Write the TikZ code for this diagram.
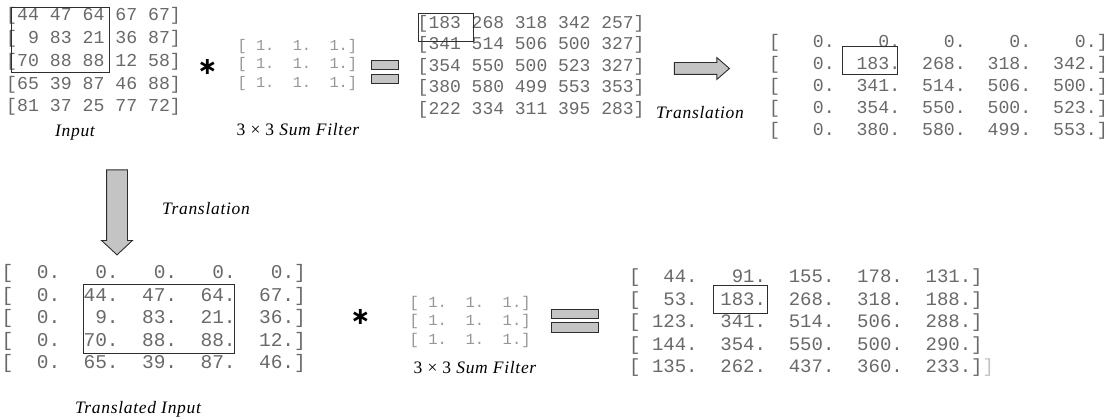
\documentclass[tikz,border=0pt]{standalone}
\usepackage{fontspec}
\setmonofont{Liberation Mono}
\newfontfamily\symfont{DejaVu Sans}
\newfontfamily\capfont[LetterSpace=4]{Liberation Serif}
\usepackage{xcolor}
\usetikzlibrary{shapes.arrows}
\definecolor{numgray}{RGB}{105,105,105}
\definecolor{filtgray}{RGB}{150,150,150}
\definecolor{ink}{RGB}{45,45,45}
\definecolor{barfill}{RGB}{196,196,196}

\begin{document}
\begin{tikzpicture}[x=1pt,y=-1pt,
  numrow/.style={anchor=mid west,inner sep=0pt,text=numgray},
  filtrow/.style={anchor=mid west,inner sep=0pt,text=filtgray,font=\ttfamily\fontsize{15.3}{18}\selectfont},
  hilite/.style={draw=ink,line width=0.9pt},
  bar/.style={rectangle,draw=ink,fill=barfill,line width=1pt,inner sep=0pt},
  blockarrow/.style={single arrow,draw=ink,fill=barfill,line width=0.9pt,inner xsep=0pt,single arrow head extend=5pt},
  caption/.style={inner sep=0pt,font=\capfont\itshape\fontsize{17.5}{20}\selectfont},
  conv/.style={inner sep=0pt,font=\symfont\bfseries\fontsize{24}{24}\selectfont}
]
\useasboundingbox (0,0) rectangle (1114,420);

% top row: input, filter, sum
\foreach \row [count=\i from 0] in {{[44~47~64~67~67]},{[~9~83~21~36~87]},{[70~88~88~12~58]},{[65~39~87~46~88]},{[81~37~25~77~72]}}
  \node[numrow,font=\ttfamily\fontsize{18.2}{20}\selectfont] (in\i) at (6,18.5+22.8*\i) {\row};
\draw[hilite] (11,7) rectangle (109,72);
\node[caption] (inlabel) at (75,133) {Input};

\node[conv] (convA) at (207.5,67) {∗};
\foreach \i in {0,1,2}
  \node[filtrow] (fa\i) at (237.5,48+18.5*\i) {[~1.~~1.~~1.]};
\node[caption] (falabel) at (298,130) {{\upshape 3 × 3} Sum Filter};

\node[bar,minimum width=27pt,minimum height=8.5pt] (eqA1) at (384.5,65.25) {};
\node[bar,minimum width=27pt,minimum height=9pt] (eqA2) at (384.5,79.5) {};

\foreach \row [count=\i from 0] in {{[183~268~318~342~257]},{[341~514~506~500~327]},{[354~550~500~523~327]},{[380~580~499~553~353]},{[222~334~311~395~283]}}
  \node[numrow,font=\ttfamily\fontsize{18}{20}\selectfont] (sum\i) at (417.5,26+21.5*\i) {\row};
\draw[hilite] (418,13) rectangle (473,41);

\node[blockarrow,minimum height=55pt,inner ysep=5.5pt,single arrow tip angle=82] (arrR) at (698.5,68.5) {};
\node[caption] (trR) at (700,113) {Translation};

\foreach \row [count=\i from 0] in {{[~~~0.~~~~0.~~~~0.~~~~0.~~~~0.]},{[~~~0.~~183.~~268.~~318.~~342.]},{[~~~0.~~341.~~514.~~506.~~500.]},{[~~~0.~~354.~~550.~~500.~~523.]},{[~~~0.~~380.~~580.~~499.~~553.]}}
  \node[numrow,font=\ttfamily\fontsize{18.2}{20}\selectfont] (pad\i) at (769,45.5+22*\i) {\row};
\draw[hilite] (842,46) rectangle (897,74);

% down arrow
\node[blockarrow,rotate=-90,minimum height=85pt,inner ysep=10pt,single arrow tip angle=94] (arrD) at (117,207.5) {};
\node[caption] (trD) at (206,209) {Translation};

% bottom row: translated input, filter, result
\foreach \row [count=\i from 0] in {{[~~0.~~~0.~~~0.~~~0.~~~0.]},{[~~0.~~44.~~47.~~64.~~67.]},{[~~0.~~~9.~~83.~~21.~~36.]},{[~~0.~~70.~~88.~~88.~~12.]},{[~~0.~~65.~~39.~~87.~~46.]}}
  \node[numrow,font=\ttfamily\fontsize{19.5}{22}\selectfont] (tin\i) at (1.5,276.5+22.5*\i) {\row};
\draw[hilite] (83,284) rectangle (234,353);
\node[caption] (tinlabel) at (138,409) {Translated Input};

\node[conv] (convB) at (360.5,317) {∗};
\foreach \i in {0,1,2}
  \node[filtrow,font=\ttfamily\fontsize{15.5}{18}\selectfont] (fb\i) at (409.5,305+18.5*\i) {[~1.~~1.~~1.]};
\node[caption] (fblabel) at (475,368) {{\upshape 3 × 3} Sum Filter};

\node[bar,minimum width=47pt,minimum height=9pt] (eqB1) at (574.5,313.5) {};
\node[bar,minimum width=47pt,minimum height=9.5pt] (eqB2) at (574.5,327.25) {};

\foreach \row [count=\i from 0] in {{[~~44.~~~91.~~155.~~178.~~131.]},{[~~53.~~183.~~268.~~318.~~188.]},{[~123.~~341.~~514.~~506.~~288.]},{[~144.~~354.~~550.~~500.~~290.]},{[~135.~~262.~~437.~~360.~~233.]\textcolor{numgray!40}{]}}}
  \node[numrow,font=\ttfamily\fontsize{19}{22}\selectfont] (res\i) at (629,280.5+22.5*\i) {\row};
\draw[hilite] (713,285) rectangle (767,313);
\end{tikzpicture}
\end{document}
